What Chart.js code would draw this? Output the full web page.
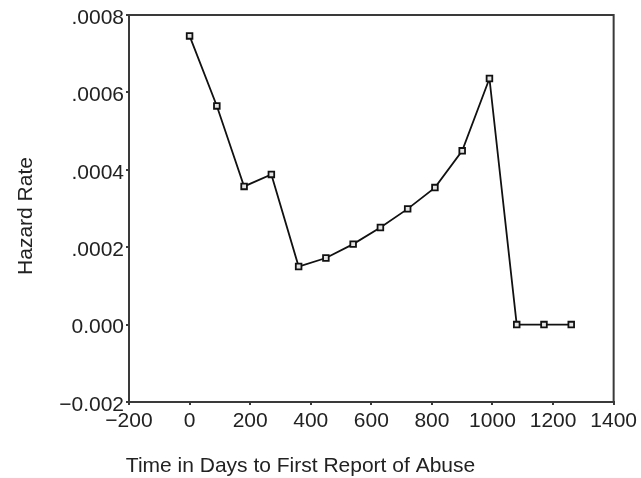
<!DOCTYPE html>
<html>
<head>
<meta charset="utf-8">
<script src="https://cdn.jsdelivr.net/npm/chart.js@4.4.1/dist/chart.umd.min.js"></script>
<style>
  html, body { margin: 0; padding: 0; background: #ffffff; }
  #wrap { width: 641px; height: 478px; }
</style>
</head>
<body>
<div id="wrap"><canvas id="c" width="641" height="478"></canvas></div>
<script>
// Data
const days = [0, 90, 180, 270, 360, 450, 540, 630, 720, 810, 900, 990, 1080, 1170, 1260];
const hazardRate = [0.000746, 0.000565, 0.000357, 0.000388, 0.000150, 0.000172, 0.000208, 0.000251, 0.000299, 0.000354, 0.000449, 0.000636, 0, 0, 0];
const yTickValues = [-0.0002, 0, 0.0002, 0.0004, 0.0006, 0.0008];
const yTickLabels = ['\u22120.002', '0.000', '.0002', '.0004', '.0006', '.0008'];
const xTitle = 'Time in Days to First Report of Abuse';
const yTitle = 'Hazard Rate';

const FONT = "'Liberation Sans', Arial, sans-serif";
const TXT = '#222222';
const AXIS = '#3a3a3a';

const frame = {
  id: 'frame',
  afterDatasetsDraw(chart) {
    const a = chart.chartArea, ctx = chart.ctx;
    ctx.save();
    ctx.strokeStyle = AXIS;
    ctx.lineWidth = 2;
    ctx.strokeRect(a.left, a.top, a.right - a.left, a.bottom - a.top);
    ctx.restore();
  }
};

const axisTitles = {
  id: 'axisTitles',
  afterDraw(chart) {
    const ctx = chart.ctx;
    ctx.save();
    ctx.fillStyle = TXT;
    ctx.font = "21px " + FONT;
    ctx.textAlign = 'center';
    ctx.textBaseline = 'alphabetic';
    ctx.fillText(xTitle, 300.5, 471.5);
    ctx.translate(31.5, 216);
    ctx.rotate(-Math.PI / 2);
    ctx.fillText(yTitle, 0, 0);
    ctx.restore();
  }
};

new Chart(document.getElementById('c'), {
  type: 'line',
  data: {
    datasets: [{
      data: days.map((d, i) => ({ x: d, y: hazardRate[i] })),
      borderColor: '#111111',
      borderWidth: 1.8,
      tension: 0,
      pointStyle: 'rect',
      pointRadius: 4,
      pointBorderWidth: 1.8,
      pointBorderColor: '#111111',
      pointBackgroundColor: '#e4e4e4',
      clip: false
    }]
  },
  options: {
    responsive: false,
    animation: false,
    devicePixelRatio: 1,
    layout: { padding: { left: 0, right: 27, top: 15, bottom: 0 } },
    plugins: {
      legend: { display: false },
      tooltip: { enabled: false },
      title: { display: false }
    },
    scales: {
      x: {
        type: 'linear',
        min: -200, max: 1400,
        afterFit(s) { s.height = 76; },
        border: { display: true, color: AXIS, width: 2 },
        grid: { drawOnChartArea: false, drawTicks: true, tickLength: 3, color: AXIS, lineWidth: 2 },
        ticks: {
          stepSize: 200,
          padding: 4,
          color: TXT,
          font: { family: FONT, size: 21 },
          maxRotation: 0,
          callback: v => String(v).replace('-', '\u2212')
        }
      },
      y: {
        type: 'linear',
        min: -0.0002, max: 0.0008,
        afterFit(s) { s.width = 129; },
        afterBuildTicks(s) { s.ticks = yTickValues.map(v => ({ value: v })); },
        border: { display: true, color: AXIS, width: 2 },
        grid: { drawOnChartArea: false, drawTicks: true, tickLength: 3, color: AXIS, lineWidth: 2 },
        ticks: {
          padding: 2,
          labelOffset: 3,
          color: TXT,
          font: { family: FONT, size: 21 },
          callback: (v, i) => yTickLabels[i]
        },
        title: { display: false }
      }
    }
  },
  plugins: [frame, axisTitles]
});
</script>
</body>
</html>
